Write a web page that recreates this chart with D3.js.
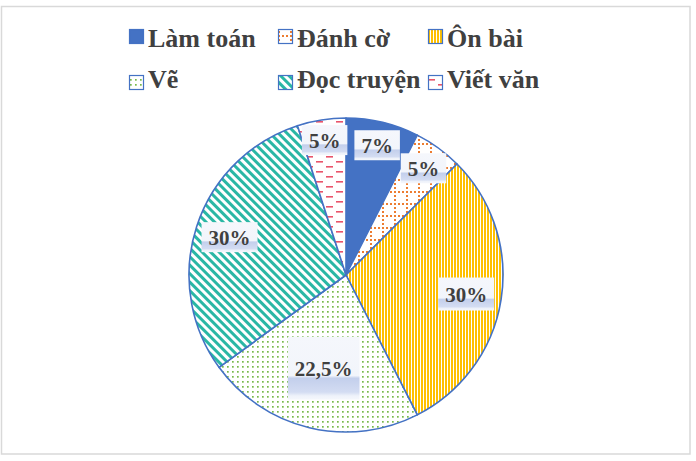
<!DOCTYPE html>
<html>
<head>
<meta charset="utf-8">
<script src="https://cdn.jsdelivr.net/npm/d3@7"></script>
<style>
  body { margin: 0; background: #fff; }
  svg { display: block; }
</style>
</head>
<body>
<div id="viz"></div>
<script>
// data
var categories = ['Làm toán', 'Đánh cờ', 'Ôn bài', 'Vẽ', 'Đọc truyện', 'Viết văn'];
var values     = [7.5, 5, 30, 22.5, 30, 5];
var valueLabels = ['7%', '5%', '30%', '22,5%', '30%', '5%'];

var width = 696, height = 461,
    cx = 346, cy = 275, radius = 157;

// label placement (fraction of radius) and box heights
var labelR = [0.85, 0.84, 0.775, 0.61, 0.78, 0.87];
var labelH = [30, 30, 33, 63, 30, 30];

var blue = '#4472C4', textColor = '#404040';

var svg = d3.select('#viz').append('svg')
  .attr('width', width)
  .attr('height', height);

var defs = svg.append('defs');

// --- fill patterns ---
function pattern(id, w, h) {
  return defs.append('pattern')
    .attr('id', id)
    .attr('patternUnits', 'userSpaceOnUse')
    .attr('width', w).attr('height', h);
}

// Đánh cờ : dotted grid orange
var pGrid = pattern('p1', 12, 12);
pGrid.append('rect').attr('width', 12).attr('height', 12).attr('fill', '#fff');
for (var i = 0; i < 3; i++) {
  pGrid.append('rect').attr('x', i * 4).attr('y', 0).attr('width', 2).attr('height', 2).attr('fill', '#ED7D31');
  if (i > 0) pGrid.append('rect').attr('x', 0).attr('y', i * 4).attr('width', 2).attr('height', 2).attr('fill', '#ED7D31');
}

// Ôn bài : narrow vertical
var pVert = pattern('p2', 3, 3);
pVert.append('rect').attr('width', 3).attr('height', 3).attr('fill', '#fff');
pVert.append('rect').attr('width', 2).attr('height', 3).attr('fill', '#FFC000');

// Vẽ : small green dots
var pDots = pattern('p3', 5, 5);
pDots.append('rect').attr('width', 5).attr('height', 5).attr('fill', '#fff');
pDots.append('rect').attr('x', 1).attr('y', 1).attr('width', 1.7).attr('height', 1.7).attr('fill', '#78B94A');

// Đọc truyện : wide downward diagonal teal
var pDiag = pattern('p4', 6, 6).attr('patternTransform', 'rotate(45)');
pDiag.append('rect').attr('width', 6).attr('height', 6).attr('fill', '#fff');
pDiag.append('rect').attr('width', 6).attr('height', 3).attr('fill', '#2AB7A5');

// Viết văn : dashed horizontal red
var pDash = pattern('p5', 20, 10);
pDash.append('rect').attr('width', 20).attr('height', 10).attr('fill', '#fff');
pDash.append('rect').attr('x', 0).attr('y', 1).attr('width', 7).attr('height', 1.6).attr('fill', '#E9546B');
pDash.append('rect').attr('x', 10).attr('y', 6).attr('width', 7).attr('height', 1.6).attr('fill', '#E9546B');

var fills = [blue, 'url(#p1)', 'url(#p2)', 'url(#p3)', 'url(#p4)', 'url(#p5)'];

// label box gradient
var grad = defs.append('linearGradient')
  .attr('id', 'lblGrad')
  .attr('x1', 0).attr('y1', 0).attr('x2', 0).attr('y2', 1);
[[0, '#F5F7FC'], [0.62, '#F2F5FB'], [0.66, '#C3CFEC'], [0.88, '#D3DCF2'], [0.94, '#EEF2FA'], [1, '#F5F7FC']]
  .forEach(function(s) {
    grad.append('stop').attr('offset', s[0]).attr('stop-color', s[1]);
  });

// chart frame
svg.append('rect')
  .attr('x', 1.5).attr('y', 6.5)
  .attr('width', 688.5).attr('height', 447.5)
  .attr('fill', 'none')
  .attr('stroke', '#D9D9D9')
  .attr('stroke-width', 1.5);

// --- pie ---
var pie = d3.pie().sort(null).value(function(d) { return d; });
var arcs = pie(values);

var arc = d3.arc().innerRadius(0).outerRadius(radius);

var g = svg.append('g').attr('transform', 'translate(' + cx + ',' + cy + ')');

g.selectAll('path.slice')
  .data(arcs)
  .enter().append('path')
    .attr('class', 'slice')
    .attr('d', arc)
    .attr('fill', function(d, i) { return fills[i]; })
    .attr('stroke', blue)
    .attr('stroke-width', 1.6)
    .attr('stroke-linejoin', 'round');

// data labels
var lbl = g.selectAll('g.lbl')
  .data(arcs)
  .enter().append('g')
    .attr('class', 'lbl')
    .attr('transform', function(d, i) {
      var c = d3.arc().innerRadius(0).outerRadius(2 * radius * labelR[i]).centroid(d);
      return 'translate(' + c[0] + ',' + c[1] + ')';
    });

var lblRect = lbl.append('rect').attr('fill', 'url(#lblGrad)');

var lblText = lbl.append('text')
  .attr('text-anchor', 'middle')
  .attr('y', 8)
  .attr('font-family', '"Liberation Serif", "Times New Roman", serif')
  .attr('font-weight', 'bold')
  .attr('font-size', 21)
  .attr('fill', textColor)
  .text(function(d, i) { return valueLabels[i]; });

lblText.each(function(d, i) {
  var w = this.getComputedTextLength() + 14;
  d3.select(lblRect.nodes()[i])
    .attr('x', -w / 2)
    .attr('y', -labelH[i] / 2)
    .attr('width', w)
    .attr('height', labelH[i]);
});

// --- legend ---
var legX = [129, 278, 428], legY = [47, 88];

var leg = svg.selectAll('g.leg')
  .data(categories)
  .enter().append('g')
    .attr('class', 'leg')
    .attr('transform', function(d, i) {
      return 'translate(' + legX[i % 3] + ',' + legY[Math.floor(i / 3)] + ')';
    });

leg.append('rect')
  .attr('x', 0.5)
  .attr('y', function(d, i) { return -17.5 + Math.floor(i / 3) * 5; })
  .attr('width', 14).attr('height', 14)
  .attr('fill', function(d, i) { return fills[i]; })
  .attr('stroke', blue)
  .attr('stroke-width', 1.2);

leg.append('text')
  .attr('x', 19)
  .attr('font-family', '"Liberation Serif", "Times New Roman", serif')
  .attr('font-weight', 'bold')
  .attr('font-size', 26)
  .attr('fill', textColor)
  .text(function(d) { return d; });
</script>
</body>
</html>
